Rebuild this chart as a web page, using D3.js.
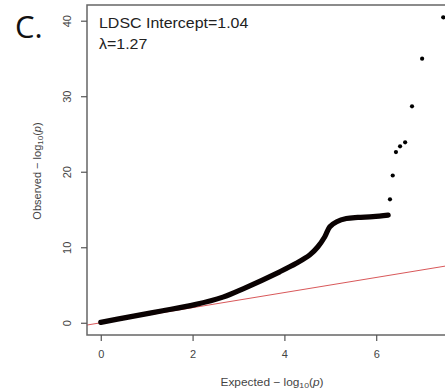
<!DOCTYPE html>
<html>
<head>
<meta charset="utf-8">
<script src="https://cdn.jsdelivr.net/npm/d3@7"></script>
<style>
  html, body { margin: 0; padding: 0; background: #fff; overflow: hidden; }
  svg { display: block; }
</style>
</head>
<body>
<div id="chart"></div>
<script>
// Main QQ curve (expected, observed)
const curveExpected = [0, 0.60, 1.32, 2.05, 2.66, 3.10, 3.90, 4.26, 4.55, 4.73, 4.88, 4.99, 5.14, 5.35, 5.60, 5.93, 6.26];
const curveObserved = [0.05, 0.75, 1.55, 2.40, 3.40, 4.50, 6.75, 7.87, 8.97, 10.07, 11.39, 12.72, 13.38, 13.80, 13.95, 14.05, 14.26];
// Individual top points
const topExpected = [6.30, 6.36, 6.43, 6.52, 6.63, 6.78, 7.00, 7.46];
const topObserved = [16.35, 19.5, 22.6, 23.36, 23.9, 28.66, 34.97, 40.45];
const xTicks = [0, 2, 4, 6];
const yTicks = [0, 10, 20, 30, 40];
const panelLabel = "C.";
const annotations = ["LDSC Intercept=1.04", "λ=1.27"];
const xTitle = "Expected";
const yTitle = "Observed";

const W = 445, H = 392;
const font = "'Liberation Sans', Arial, sans-serif";
const svg = d3.select("#chart").append("svg").attr("width", W).attr("height", H);

const x = d3.scaleLinear().domain([-0.3, 7.76]).range([87, 457]);
const y = d3.scaleLinear().domain([-1.62, 42.08]).range([335, 5]);

svg.append("defs").append("clipPath").attr("id", "clip")
  .append("rect").attr("x", 87).attr("y", 5).attr("width", 370).attr("height", 330);

const plot = svg.append("g").attr("clip-path", "url(#clip)");

// reference line y = x
plot.append("line")
  .attr("x1", x(-0.3)).attr("y1", y(-0.3))
  .attr("x2", x(7.76)).attr("y2", y(7.76))
  .attr("stroke", "#d9585a").attr("stroke-width", 1);

const curveData = curveExpected.map((e, i) => [e, curveObserved[i]]);
const lineGen = d3.line().x(d => x(d[0])).y(d => y(d[1])).curve(d3.curveCatmullRom.alpha(0.5));
plot.append("path")
  .datum(curveData)
  .attr("d", lineGen)
  .attr("fill", "none").attr("stroke", "#0a0202").attr("stroke-width", 5.2)
  .attr("stroke-linecap", "round").attr("stroke-linejoin", "round");

plot.selectAll("circle.top")
  .data(topExpected.map((e, i) => [e, topObserved[i]]))
  .join("circle").attr("class", "top")
  .attr("cx", d => x(d[0])).attr("cy", d => y(d[1])).attr("r", 2.1)
  .attr("fill", "#000");

// frame
svg.append("rect").attr("x", 87).attr("y", 5).attr("width", 370).attr("height", 330)
  .attr("fill", "none").attr("stroke", "#666").attr("stroke-width", 1.5);

// axes
const xAxis = svg.append("g").attr("transform", "translate(0,335)")
  .call(d3.axisBottom(x).tickValues(xTicks).tickSize(6).tickPadding(9).tickFormat(d3.format("d")));
xAxis.select(".domain").remove();
xAxis.selectAll("line").attr("stroke", "#555").attr("stroke-width", 1.2);
xAxis.selectAll("text").attr("font-family", font).attr("font-size", 11).attr("fill", "#444");

const yAxis = svg.append("g").attr("transform", "translate(87,0)")
  .call(d3.axisLeft(y).tickValues(yTicks).tickSize(6).tickFormat(d3.format("d")));
yAxis.select(".domain").remove();
yAxis.selectAll("line").attr("stroke", "#555").attr("stroke-width", 1.2);
yAxis.selectAll("text")
  .attr("font-family", font).attr("font-size", 11).attr("fill", "#444")
  .attr("x", null).attr("dy", null)
  .attr("text-anchor", "middle")
  .attr("transform", "translate(-16,0) rotate(-90)")
  .attr("y", 0);

// axis titles
const xt = svg.append("text").attr("transform", "translate(272,386) scale(1.08,1)")
  .attr("text-anchor", "middle").attr("font-family", font).attr("font-size", 11).attr("fill", "#444");
xt.append("tspan").text(xTitle + "  \u2212 log");
xt.append("tspan").attr("font-size", 8).attr("dy", 2).text("10");
xt.append("tspan").attr("dy", -2).text("(");
xt.append("tspan").attr("font-style", "italic").text("p");
xt.append("tspan").text(")");

const yt = svg.append("text").attr("transform", "translate(41,171) rotate(-90)")
  .attr("text-anchor", "middle").attr("font-family", font).attr("font-size", 11).attr("fill", "#444");
yt.append("tspan").text(yTitle + "  \u2212 log");
yt.append("tspan").attr("font-size", 8).attr("dy", 2).text("10");
yt.append("tspan").attr("dy", -2).text("(");
yt.append("tspan").attr("font-style", "italic").text("p");
yt.append("tspan").text(")");

// panel label
svg.append("text").attr("x", 15).attr("y", 38).text(panelLabel)
  .attr("font-family", "'Open Sans', 'Liberation Sans', sans-serif").attr("font-size", 31).attr("fill", "#111");

// annotations
annotations.forEach((t, i) => {
  svg.append("text").attr("transform", `translate(99,${28 + i * 21}) scale(1.1,1)`).text(t)
    .attr("font-family", font).attr("font-size", 14.5).attr("fill", "#222");
});
</script>
</body>
</html>
